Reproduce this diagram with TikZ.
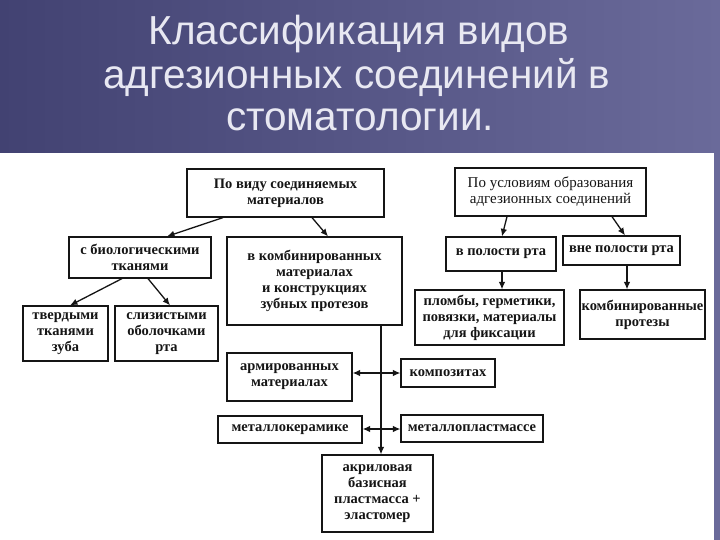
\documentclass[tikz,border=0pt]{standalone}
\usepackage{fontspec}
\setmainfont{Liberation Serif}
\newfontfamily\titlefont{Liberation Sans}
\usetikzlibrary{arrows.meta}
\definecolor{bgL}{HTML}{424272}
\definecolor{bgR}{HTML}{6A6A9A}
\definecolor{ink}{HTML}{151515}
\definecolor{titlecol}{HTML}{E8E8F2}
\begin{document}
\begin{tikzpicture}[x=1pt,y=-1pt,
  box/.style={draw=ink,line width=1.2pt,align=center,inner sep=0pt,text=ink,
    font=\fontsize{14.5}{16}\selectfont\bfseries},
  boxr/.style={box,font=\fontsize{15}{16}\selectfont},
  arr/.style={draw=ink,line width=1.3pt,-{Latex[length=7.5pt,width=6.5pt]}},
  ttl/.style={font=\titlefont\fontsize{40.5}{46}\selectfont,text=titlecol,anchor=base,inner sep=0pt}]
\useasboundingbox (0,0) rectangle (720,540);
\shade[left color=bgL,right color=bgR] (0,0) rectangle (720,540);
\fill[white] (0,153) rectangle (714,540);
\node[ttl] (t1) at (359,45) {Классификация видов};
\node[ttl] (t2) at (357,89) {адгезионных соединений в};
\node[ttl] (t3) at (360,131) {стоматологии.};
% left tree
\node[box,minimum width=197pt,minimum height=48pt] (A) at (285.5,193) {По виду соединяемых\\материалов};
\node[box,minimum width=142pt,minimum height=41pt] (B) at (140,257.5) {с биологическими\\тканями};
\node[box,minimum width=175pt,minimum height=88pt] (C) at (314.5,281) {в комбинированных\\материалах\\и конструкциях\\зубных протезов};
\node[box,minimum width=85pt,minimum height=55pt] (D) at (65.5,333.5) {твердыми\\тканями\\зуба};
\node[box,minimum width=103pt,minimum height=55pt] (E) at (166.5,333.5) {слизистыми\\оболочками\\рта};
% right tree
\node[boxr,minimum width=191pt,minimum height=48pt] (F) at (550.5,192) {По условиям образования\\адгезионных соединений};
\node[box,minimum width=110pt,minimum height=34pt] (G) at (501,254) {в полости рта};
\node[box,minimum width=117pt,minimum height=29pt] (H) at (621.5,250.5) {вне полости рта};
\node[box,minimum width=149pt,minimum height=55pt] (I) at (489.5,317.5) {пломбы, герметики,\\повязки, материалы\\для фиксации};
\node[box,minimum width=125pt,minimum height=49pt] (J) at (642.5,314.5) {комбинированные\\протезы};
% lower part
\node[box,minimum width=125pt,minimum height=48pt] (L) at (289.5,377) {армированных\\материалах};
\node[box,minimum width=94pt,minimum height=28pt] (N) at (448,373) {композитах};
\node[box,minimum width=144pt,minimum height=27pt] (M) at (290,429.5) {металлокерамике};
\node[box,minimum width=142pt,minimum height=27pt] (O) at (472,428.5) {металлопластмассе};
\node[box,minimum width=111pt,minimum height=77pt] (K) at (377.5,493.5) {акриловая\\базисная\\пластмасса +\\эластомер};
% connectors
\draw[arr] ([xshift=-62.5pt]A.south) -- ([xshift=27pt]B.north);
\draw[arr] ([xshift=26.5pt]A.south) -- ([xshift=13.5pt]C.north);
\draw[arr] ([xshift=-18pt]B.south) -- ([xshift=4.5pt]D.north);
\draw[arr] ([xshift=8pt]B.south) -- ([xshift=3.5pt]E.north);
\draw[arr] ([xshift=-43.5pt]F.south) -- ([xshift=1pt]G.north);
\draw[arr] ([xshift=61.5pt]F.south) -- ([xshift=3.5pt]H.north);
\draw[arr] ([xshift=1pt]G.south) -- ([xshift=12.5pt]I.north);
\draw[arr] ([xshift=5.5pt]H.south) -- ([xshift=-15.5pt]J.north);
\coordinate (tr) at (381,0);
\coordinate (r1) at (381,373);
\coordinate (r2) at (381,429);
\draw[arr] (C.south -| tr) -- (K.north -| tr);
\draw[arr] (r1) -- (r1 -| L.east);
\draw[arr] (r1) -- (r1 -| N.west);
\draw[arr] (r2) -- (r2 -| M.east);
\draw[arr] (r2) -- (r2 -| O.west);
\end{tikzpicture}
\end{document}
